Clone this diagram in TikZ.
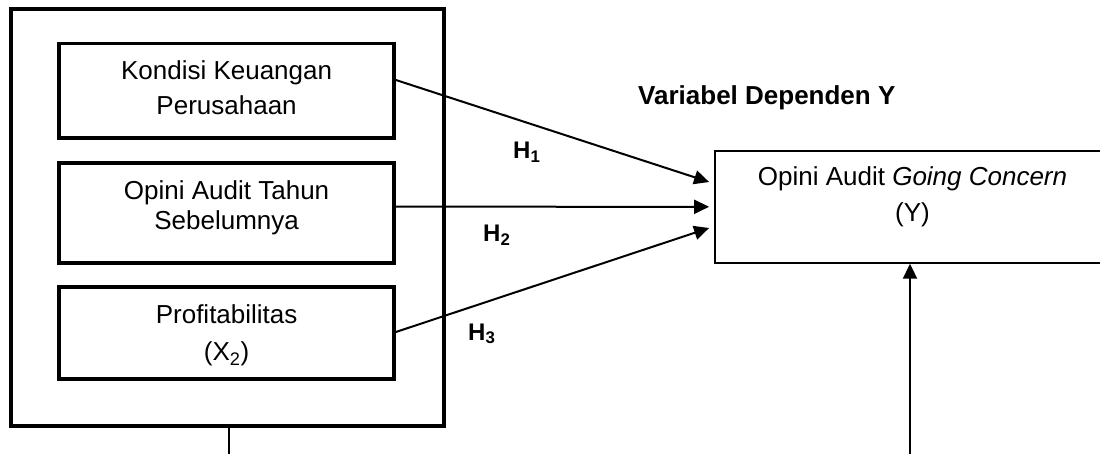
\documentclass[tikz,border=0pt]{standalone}
\usepackage{fontspec}
\setmainfont{Liberation Sans}
\usetikzlibrary{arrows.meta,calc}
\begin{document}
\begin{tikzpicture}[x=1pt,y=-1pt,
  outerbox/.style={draw, line width=4pt, inner sep=0pt},
  varbox/.style={draw, line width=3.7pt, inner sep=0pt, minimum width=334.8pt},
  depbox/.style={draw, line width=1.8pt, inner sep=0pt},
  boxtext/.style={font=\fontsize{26}{32}\selectfont, align=center, inner sep=0pt},
  hlabel/.style={font=\fontsize{24}{28}\selectfont\bfseries, inner sep=0pt, anchor=base west},
  title/.style={font=\fontsize{26}{30}\selectfont\bfseries, inner sep=0pt, anchor=base west},
  conn/.style={line width=2pt, -{Triangle[length=15pt,width=14pt]}},
  plain/.style={line width=2.3pt},
]
\useasboundingbox (0,0) rectangle (1100,454);
\clip (0,0) rectangle (1100,454);

\node[outerbox, minimum width=432.4pt, minimum height=416.3pt] (outer) at (227.5,217.35) {};
\node[varbox, minimum height=94.5pt] (b1) at (226.6,90.75) {};
\node[varbox, minimum height=99.8pt] (b2) at (226.6,213.1) {};
\node[varbox, minimum height=91.8pt] (b3) at (226.6,333.1) {};
\node[depbox, minimum width=395pt, minimum height=112pt] (Y) at (912.5,206.8) {};

\node[boxtext] (t1) at (226.6,87.7) {Kondisi Keuangan\\[2.3pt]Perusahaan};
\node[boxtext] (t2) at (226.6,207.9) {Opini Audit Tahun\\[-1.3pt]Sebelumnya};
\node[boxtext] (t3) at (226.6,335.4) {Profitabilitas\\[5.7pt](X\textsubscript{2})};
\node[boxtext] (tY) at (912.5,197) {Opini Audit \textit{Going Concern}\\[4pt](Y)};

\node[title] (dep) at (638,105) {Variabel Dependen Y};
\node[hlabel] (h1) at (513,159) {H\textsubscript{1}};
\node[hlabel] (h2) at (483,242) {H\textsubscript{2}};
\node[hlabel] (h3) at (468,340) {H\textsubscript{3}};

\draw[conn] ([yshift=10.75pt]b1.east) -- ([xshift=-5pt,yshift=24.8pt]Y.west);
\draw[conn] ([yshift=6.4pt]b2.east) -- ([xshift=-5pt]Y.west);
\draw[conn] ([yshift=1.1pt]b3.east) -- ([xshift=-5pt,yshift=-21.2pt]Y.west);

\coordinate (bl) at (229,454);
\coordinate (ba) at (910,454);
\draw[plain] (bl |- outer.south) -- (bl);
\draw[conn] (ba) -- (ba |- Y.south);
\end{tikzpicture}
\end{document}
